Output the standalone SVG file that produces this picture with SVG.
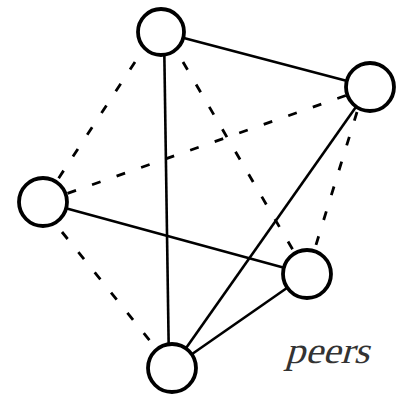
<svg xmlns="http://www.w3.org/2000/svg" width="402" height="395" viewBox="0 0 402 395">
<style>
.node{fill:#fff;stroke:#000;stroke-width:3.8}
.solid{stroke:#000;stroke-width:2.6;fill:none}
.dash{stroke:#000;stroke-width:2.8;fill:none;stroke-dasharray:9 17}
.lbl{font-family:"Liberation Serif","Times New Roman",serif;font-size:37px;fill:#333}
</style>
<rect width="402" height="395" fill="#fff"/>
<g id="connectors">
<line class="solid" x1="161" y1="32" x2="370" y2="87"/>
<line class="solid" x1="164" y1="32" x2="169" y2="368"/>
<line class="solid" x1="43" y1="202" x2="307" y2="274"/>
<line class="solid" x1="370" y1="87" x2="172" y2="368"/>
<line class="solid" x1="307" y1="274" x2="172" y2="368"/>
<line class="dash" x1="135" y1="62" x2="43" y2="202"/>
<line class="dash" x1="183" y1="62" x2="307" y2="274"/>
<line class="dash" x1="43" y1="202" x2="370" y2="87"/>
<line class="dash" x1="62" y1="232" x2="172" y2="368"/>
<line class="dash" x1="357" y1="112" x2="307" y2="274"/>
</g>
<g id="n1"><circle class="node" cx="161" cy="32" r="23"/></g>
<g id="n2"><circle class="node" cx="370" cy="87" r="24"/></g>
<g id="n3"><circle class="node" cx="43" cy="202" r="24"/></g>
<g id="n4"><circle class="node" cx="307" cy="274" r="24"/></g>
<g id="n5"><circle class="node" cx="172" cy="368" r="24"/></g>
<text class="lbl" x="285" y="363" transform="translate(0 363) skewX(-16) translate(0 -363)" textLength="84" lengthAdjust="spacingAndGlyphs">peers</text>
</svg>
